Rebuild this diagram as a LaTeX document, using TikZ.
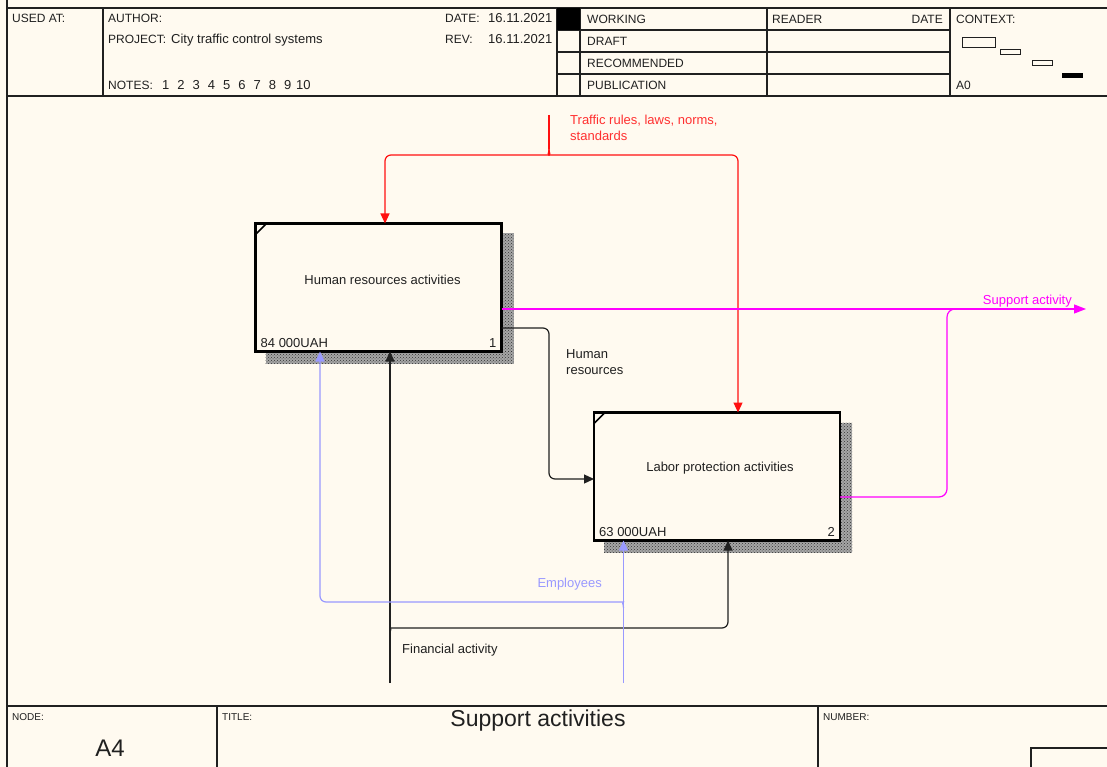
\documentclass[tikz,border=0pt]{standalone}
\usepackage{fontspec}
\setmainfont{Liberation Sans}
\usetikzlibrary{arrows.meta,calc,patterns}
\definecolor{bgc}{HTML}{FFFAF0}
\definecolor{redc}{HTML}{FF1010}
\definecolor{redt}{HTML}{FF3030}
\definecolor{magc}{HTML}{FF00FF}
\definecolor{bluec}{HTML}{9999FF}
\definecolor{inkc}{HTML}{202020}
\pgfdeclarelayer{under}
\pgfsetlayers{under,main}
\tikzset{
  frameline/.style={line width=1.3pt, draw=inkc},
  actbox/.style={draw=black, line width=2.4pt, fill=bgc, minimum width=246pt, minimum height=128pt, inner sep=0pt, outer sep=0pt},
  hdr/.style={font=\fontsize{12}{14}\selectfont, inner sep=0pt, anchor=base west, text=inkc},
  lbl/.style={font=\fontsize{13}{16}\selectfont, inner sep=0pt, text=inkc},
  small/.style={font=\fontsize{10}{12}\selectfont, inner sep=0pt, anchor=base west, text=inkc},
  big/.style={font=\fontsize{23}{27}\selectfont, inner sep=0pt, text=inkc},
  conn/.style={line width=1.2pt, draw=inkc, rounded corners=6pt},
  tip/.style={-{Triangle[length=10pt,width=9pt]}},
  shadowfill/.style={fill=black!35, postaction={pattern=crosshatch dots, pattern color=black!80}},
}
\begin{document}
\begin{tikzpicture}[x=1pt,y=-1pt]
\useasboundingbox (0,0) rectangle (1107,767);
\begin{pgfonlayer}{under}
\fill[bgc] (0,0) rectangle (1107,767);
\end{pgfonlayer}

% ---------------- header frame ----------------
\draw[frameline] (7,0) -- (7,767);
\draw[frameline] (7,8) -- (1107,8);
\draw[frameline] (7,96) -- (1107,96);
\draw[frameline] (103,8) -- (103,96);
\draw[frameline] (557,8) -- (557,96);
\draw[frameline] (580,8) -- (580,96);
\draw[frameline] (767,8) -- (767,96);
\draw[frameline] (950,8) -- (950,96);
\draw[frameline] (557,30) -- (950,30);
\draw[frameline] (557,52) -- (950,52);
\draw[frameline] (557,74) -- (950,74);
\fill[black] (557,8) rectangle (580,30);

\node[hdr] (usedat) at (12,22.5) {USED AT:};
\node[hdr] (author) at (108,22.5) {AUTHOR:};
\node[hdr] (project) at (108,43.5) {PROJECT:};
\node[lbl, anchor=base west] (projname) at (171,43.5) {City traffic control systems};
\node[hdr] (notes) at (108,89.5) {NOTES:};
\node[lbl, anchor=base west] (notenums) at (162,89.5) {1\hspace{8pt}2\hspace{8pt}3\hspace{8pt}4\hspace{8pt}5\hspace{8pt}6\hspace{8pt}7\hspace{8pt}8\hspace{8pt}9\hspace{5pt}10};
\node[hdr] (datel) at (445,22.5) {DATE:};
\node[lbl, anchor=base west] (datev) at (488,22.5) {16.11.2021};
\node[hdr] (revl) at (445,43.5) {REV:};
\node[lbl, anchor=base west] (revv) at (488,43.5) {16.11.2021};
\node[hdr] (working) at (587,23.5) {WORKING};
\node[hdr] (draft) at (587,45.5) {DRAFT};
\node[hdr] (recommended) at (587,67.5) {RECOMMENDED};
\node[hdr] (publication) at (587,89.5) {PUBLICATION};
\node[hdr] (reader) at (772,23.5) {READER};
\node[hdr, anchor=base east] (rdate) at (943,23.5) {DATE};
\node[hdr] (context) at (956,23.5) {CONTEXT:};
\node[hdr] (azero) at (956,89.5) {A0};
\draw[line width=1pt, draw=inkc] (962,38) rectangle (995,48);
\draw[line width=1pt, draw=inkc] (1000,50) rectangle (1020,55);
\draw[line width=1pt, draw=inkc] (1032,61) rectangle (1052,66);
\fill[black] (1062,73) rectangle (1083,78);

% ---------------- footer ----------------
\draw[frameline] (7,706) -- (1107,706);
\draw[frameline] (217,706) -- (217,767);
\draw[frameline] (818,706) -- (818,767);
\draw[frameline] (1031,767) -- (1031,748) -- (1107,748);
\node[small] (nodel) at (12,720) {NODE:};
\node[small] (titlel) at (222,720) {TITLE:};
\node[small] (numberl) at (823,720) {NUMBER:};
\node[big, font=\fontsize{24}{28}\selectfont] (nodenum) at (110,748) {A4};
\node[big] (title) at (538,721) {Support activities};

% ---------------- activity boxes ----------------
\node[actbox] (b1) at (378.5,287.5) {};
\node[actbox] (b2) at (717,476.5) {};
\begin{pgfonlayer}{under}
\fill[shadowfill] ($(b1.north east)+(0,10)$) rectangle ($(b1.south east)+(12,12)$);
\fill[shadowfill] ($(b1.south west)+(10,0)$) rectangle ($(b1.south east)+(12,12)$);
\fill[shadowfill] ($(b2.north east)+(0,10)$) rectangle ($(b2.south east)+(12,12)$);
\fill[shadowfill] ($(b2.south west)+(10,0)$) rectangle ($(b2.south east)+(12,12)$);
\end{pgfonlayer}
\draw[line width=1.6pt] ($(b1.north west)+(0,11)$) -- ($(b1.north west)+(11,0)$);
\draw[line width=1.6pt] ($(b2.north west)+(0,11)$) -- ($(b2.north west)+(11,0)$);

\node[lbl] (b1t) at ($(b1.north)+(4,56)$) {Human resources activities};
\node[lbl, anchor=base west] (b1c) at ($(b1.south west)+(5,-4.5)$) {84 000UAH};
\node[lbl, anchor=base east] (b1n) at ($(b1.south east)+(-5,-4.5)$) {1};
\node[lbl] (b2t) at ($(b2.north)+(3,56)$) {Labor protection activities};
\node[lbl, anchor=base west] (b2c) at ($(b2.south west)+(5,-4.5)$) {63 000UAH};
\node[lbl, anchor=base east] (b2n) at ($(b2.south east)+(-5,-4.5)$) {2};

% ---------------- control: traffic rules ----------------
\coordinate (rtop) at (549,115);
\coordinate (rsplit) at (549,149);
\coordinate (r1x) at (385,155);
\coordinate (r2x) at (738,155);
\draw[conn, draw=redc] (rtop) -- (rsplit);
\draw[conn, draw=redc, tip, redc] (rsplit) .. controls (549,153) and (547,155) .. (543,155) -- (r1x) -- (r1x |- b1.north);
\draw[conn, draw=redc, tip, redc] (rsplit) .. controls (549,153) and (551,155) .. (555,155) -- (r2x) -- (r2x |- b2.north);
\node[lbl, text=redt, anchor=north west, align=left] (rlab) at (570,114.5) {Traffic rules, laws, norms,\\standards};

% ---------------- output: human resources ----------------
\coordinate (hr1) at (549,328);
\coordinate (hr2) at (549,479);
\draw[conn, tip] (b1.east |- hr1) -- (hr1) -- (hr2) -- (b2.west |- hr2);
\node[lbl, anchor=north west, align=left] (hrlab) at (566,349.5) {Human\\resources};

% ---------------- output: support activity ----------------
\coordinate (sout) at (1086,309);
\coordinate (m2) at (947,497);
\coordinate (mj) at (957,309);
\draw[conn, draw=magc, magc, -{Triangle[length=12pt,width=9pt]}] (b1.east |- sout) -- (sout);
\draw[conn, draw=magc, rounded corners=8pt] (b2.east |- m2) -- (m2) -- (m2 |- mj) -- (mj);
\node[lbl, text=magc, anchor=base east] (salab) at (1072,304.5) {Support activity};

% ---------------- mechanism: financial activity ----------------
\coordinate (fin) at (390,683);
\coordinate (fbr) at (390,634);
\coordinate (f2) at (728,628);
\draw[conn, tip] (fin) -- (fin |- b1.south);
\draw[conn, tip] (fbr) .. controls (390,630) and (392,628) .. (396,628) -- (f2) -- (f2 |- b2.south);
\node[lbl, anchor=base west] (finlab) at (402,653.5) {Financial activity};

% ---------------- mechanism: employees ----------------
\coordinate (emp) at (623.5,683);
\coordinate (ebr) at (623.5,608);
\coordinate (e2) at (320,602);
\draw[conn, draw=bluec, line width=1.2pt, bluec, tip] (emp) -- (emp |- b2.south);
\draw[conn, draw=bluec, line width=1.2pt, bluec, tip] (ebr) .. controls (623.5,604) and (621.5,602) .. (617.5,602) -- (e2) -- (e2 |- b1.south);
\node[lbl, text=bluec, anchor=base east] (emplab) at (602,587.5) {Employees};
\end{tikzpicture}
\end{document}
